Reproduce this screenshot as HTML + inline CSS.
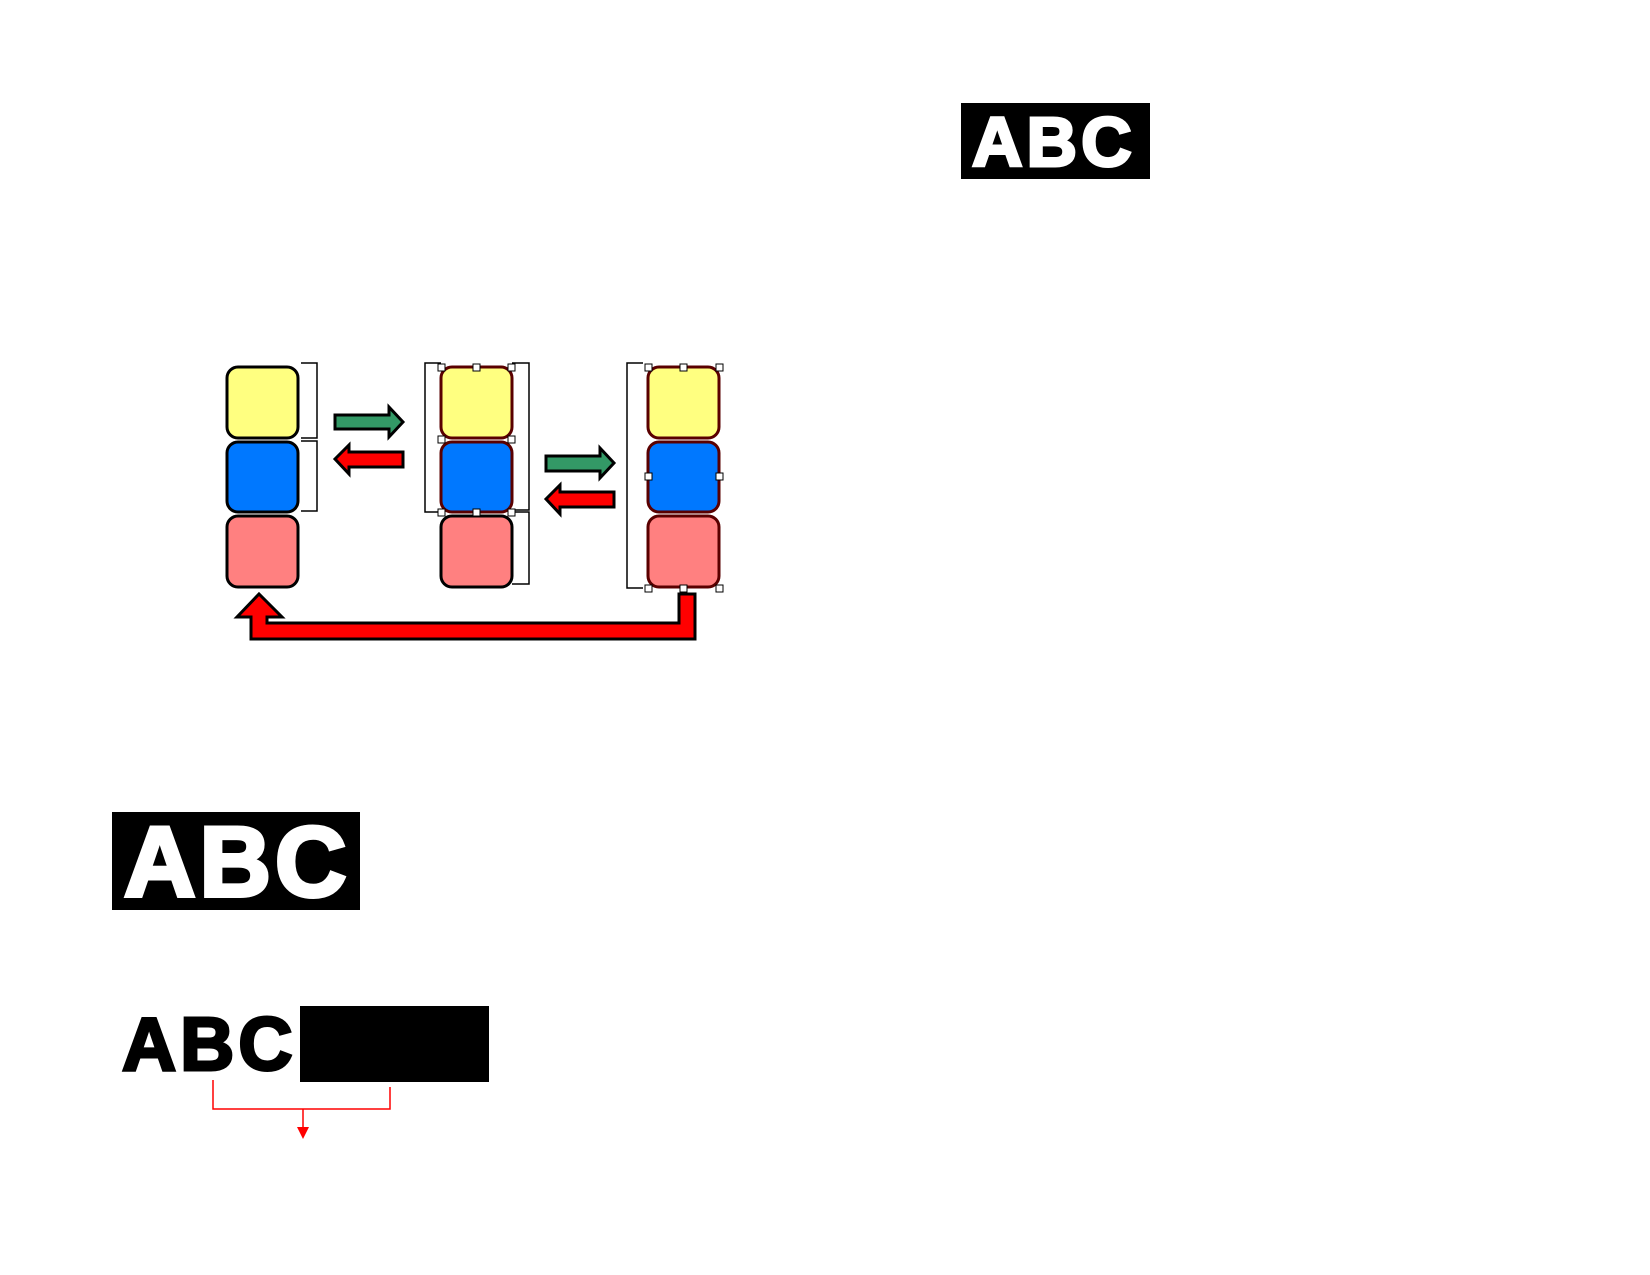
<!DOCTYPE html>
<html><head><meta charset="utf-8"><style>
html,body{margin:0;padding:0;background:#fff;width:1650px;height:1275px;overflow:hidden;position:relative}
.t{position:absolute;font-family:"Liberation Sans",Arial,sans-serif;font-weight:bold;white-space:nowrap;line-height:1}
</style></head><body>
<div style="position:absolute;left:961px;top:103px;width:189px;height:76px;background:#000"></div>
<div class="t" style="left:972px;top:103px;font-size:70px;color:#fff;line-height:78px;letter-spacing:4px;-webkit-text-stroke:3px #fff">ABC</div>
<div style="position:absolute;left:112px;top:812px;width:248px;height:98px;background:#000"></div>
<div class="t" style="left:124px;top:810px;font-size:99px;color:#fff;line-height:104px;letter-spacing:4px;-webkit-text-stroke:4px #fff">ABC</div>
<div class="t" style="left:122px;top:1002px;font-size:75px;color:#000;line-height:84px;letter-spacing:4px;-webkit-text-stroke:3px #000">ABC</div>
<div style="position:absolute;left:300px;top:1006px;width:189px;height:76px;background:#000"></div>
<svg width="1650" height="1275" style="position:absolute;left:0;top:0">
<g stroke="#f00" stroke-width="1.5" fill="none">
<polyline points="213,1080 213,1109 390,1109 390,1087"/>
<line x1="303" y1="1109" x2="303" y2="1128"/>
</g>
<polygon points="297,1127 309,1127 303,1139" fill="#f00"/>
<g stroke="#000" stroke-width="1.5" fill="none">
<polyline points="301,363 317,363 317,438 301,438"/>
<polyline points="301,441 317,441 317,511 301,511"/>
<polyline points="441,363 425,363 425,512 441,512"/>
<polyline points="512,363 529,363 529,510 512,510"/>
<polyline points="512,512 529,512 529,584 512,584"/>
<polyline points="643,363 627,363 627,588 643,588"/>
</g>
<g stroke="#000" stroke-width="3">
<rect x="227" y="367" width="71" height="71" rx="11" fill="#ffff80"/>
<rect x="227" y="442" width="71" height="70" rx="11" fill="#0078ff"/>
<rect x="227" y="516" width="71" height="71" rx="11" fill="#ff8080"/>
<rect x="441" y="516" width="71" height="71" rx="11" fill="#ff8080"/>
</g>
<g stroke="#5a0000" stroke-width="3">
<rect x="441" y="367" width="71" height="71" rx="11" fill="#ffff80"/>
<rect x="441" y="442" width="71" height="70" rx="11" fill="#0078ff"/>
<rect x="648" y="367" width="71" height="71" rx="11" fill="#ffff80"/>
<rect x="648" y="442" width="71" height="70" rx="11" fill="#0078ff"/>
<rect x="648" y="516" width="71" height="71" rx="11" fill="#ff8080"/>
</g>
<g stroke="#000" stroke-width="3" stroke-linejoin="miter">
<polygon points="335,415 389,415 389,407 403,422 389,437 389,429 335,429" fill="#339966"/>
<polygon points="403,452 349,452 349,445 335,459 349,474 349,467 403,467" fill="#f00"/>
<polygon points="546,456 600,456 600,448 614,463 600,478 600,471 546,471" fill="#339966"/>
<polygon points="614,492 560,492 560,485 546,499 560,514 560,507 614,507" fill="#f00"/>
<polygon points="679,594 695,594 695,639 251,639 251,617 237,617 259,594 282,617 267,617 267,623 679,623" fill="#f00"/>
</g>
<g fill="#fff" stroke="#000" stroke-width="1">
<rect x="438" y="364" width="7" height="7"/><rect x="473" y="364" width="7" height="7"/><rect x="508" y="364" width="7" height="7"/>
<rect x="438" y="436" width="7" height="7"/><rect x="508" y="436" width="7" height="7"/>
<rect x="438" y="509" width="7" height="7"/><rect x="473" y="509" width="7" height="7"/><rect x="508" y="509" width="7" height="7"/>
<rect x="645" y="364" width="7" height="7"/><rect x="680" y="364" width="7" height="7"/><rect x="716" y="364" width="7" height="7"/>
<rect x="645" y="473" width="7" height="7"/><rect x="716" y="473" width="7" height="7"/>
<rect x="645" y="585" width="7" height="7"/><rect x="680" y="585" width="7" height="7"/><rect x="716" y="585" width="7" height="7"/>
</g>
</svg>
</body></html>
